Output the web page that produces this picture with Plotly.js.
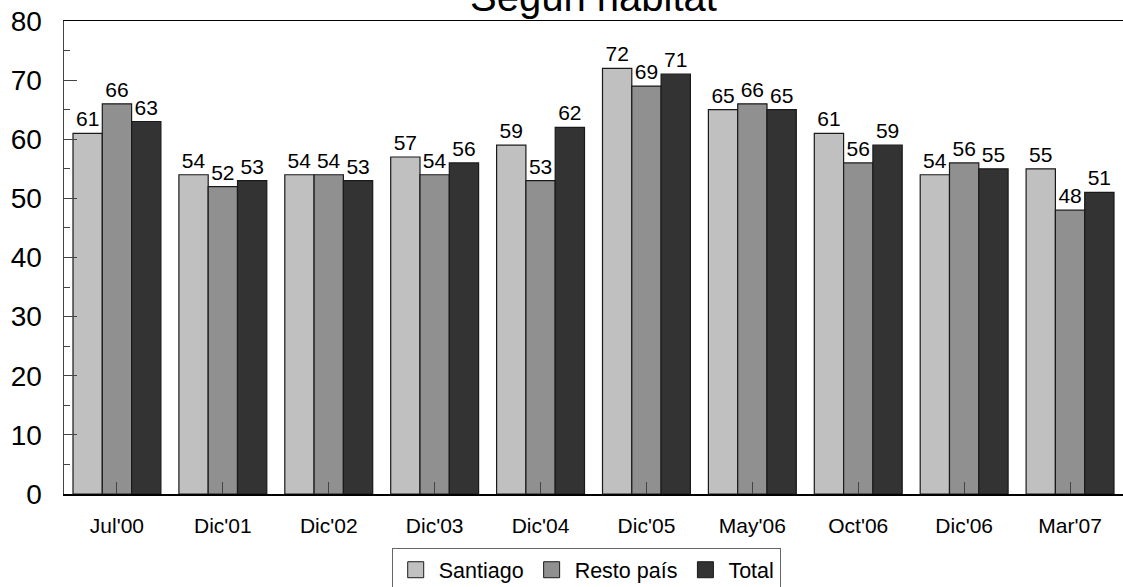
<!DOCTYPE html>
<html><head><meta charset="utf-8">
<script src="https://cdn.plot.ly/plotly-3.0.1.min.js"></script>
<style>html,body{margin:0;padding:0;background:#fff}#c{width:1123px;height:587px}</style>
</head><body><div id="c"></div>
<script>
const categories = ["Jul'00","Dic'01","Dic'02","Dic'03","Dic'04","Dic'05","May'06","Oct'06","Dic'06","Mar'07"];
const santiago = [61,54,54,57,59,72,65,61,54,55];
const restoPais = [66,52,54,54,53,69,66,56,56,48];
const total = [63,53,53,56,62,71,65,59,55,51];
const seriesNames = ["Santiago","Resto país","Total"];
const titleText = "Según habitat";

const colors = ["#c0c0c0","#909090","#333333"];
const font = "Arial, 'Liberation Sans', sans-serif";
function tr(name, vals, col){
  return {type:'bar', name:name, x:categories, y:vals, text:vals.map(String),
    textposition:'outside', cliponaxis:false, showlegend:false,
    textfont:{family:font,size:21,color:'#000'},
    marker:{color:col, line:{color:'#1a1a1a', width:1.2}}};
}
function leg(name, col){
  return {type:'scatter', mode:'markers', name:name, x:[null], y:[null],
    marker:{symbol:'square', size:16, color:col, line:{color:'#1a1a1a', width:1}}};
}
const data = [tr(seriesNames[0],santiago,colors[0]), tr(seriesNames[1],restoPais,colors[1]), tr(seriesNames[2],total,colors[2]),
  leg(seriesNames[0],colors[0]), leg(seriesNames[1],colors[1]), leg(seriesNames[2],colors[2])];
const layout = {
  width:1123, height:587,
  margin:{l:64,r:0,t:21,b:93},
  paper_bgcolor:'#fff', plot_bgcolor:'#fff',
  font:{family:font,color:'#000'},
  barmode:'group', bargap:0.17, bargroupgap:0,
  showlegend:true,
  legend:{orientation:'h', x:0.522, xanchor:'center', xref:'container', y:0.066, yanchor:'top', yref:'container',
    bordercolor:'#666', borderwidth:1, font:{size:21.5,family:font}, traceorder:'normal',
    itemsizing:'trace', itemwidth:36, tracegroupgap:0},
  xaxis:{type:'category', showline:true, linecolor:'#000', linewidth:1.5, mirror:true,
    ticks:'inside', ticklen:12, tickcolor:'#444', tickfont:{size:21,family:font},
    ticklabelstandoff:12, showgrid:false, zeroline:false, range:[-0.5,9.5]},
  yaxis:{range:[0,80], dtick:10, showline:true, linecolor:'#444', linewidth:1.5,
    ticks:'inside', ticklen:13, tickcolor:'#444', tickfont:{size:28,family:font},
    ticklabelstandoff:15, showgrid:false, zeroline:false,
    minor:{dtick:5, ticks:'inside', ticklen:6, tickcolor:'#444'}},
  annotations:[{text:titleText, xref:'paper', yref:'paper', x:0.5, y:1, xanchor:'center', yanchor:'bottom',
    yshift:0, showarrow:false, font:{size:40,family:font,color:'#000'}}]
};
Plotly.newPlot('c', data, layout, {displayModeBar:false, staticPlot:true});
</script></body></html>
